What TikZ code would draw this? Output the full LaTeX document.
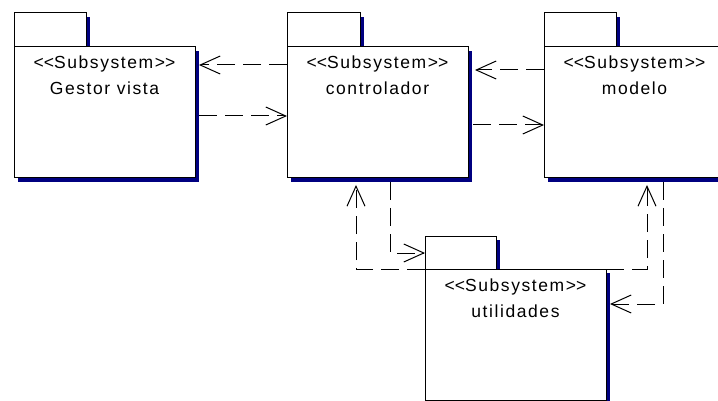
\documentclass[tikz,border=0pt]{standalone}
\usepackage{fontspec}
\newfontfamily\umlfont{Liberation Sans}[LetterSpace=9]
\usetikzlibrary{arrows.meta,shadows}
\definecolor{shadowblue}{RGB}{0,0,128}
\newcommand\stereo{<\kern0pt<\kern0pt Subsystem>\kern0pt>}
\begin{document}
\begin{tikzpicture}[x=1pt,y=-1pt,
  pkg/.style={draw=black, line width=1pt, fill=white, inner sep=0pt, outer sep=0pt,
    anchor=north west, minimum width=181pt,
    drop shadow={shadow xshift=4pt, shadow yshift=-4pt, fill=shadowblue, opacity=1}},
  tabbox/.style={pkg, minimum width=72pt, minimum height=34pt},
  bodybox/.style={pkg, minimum height=131pt},
  lbl/.style={font=\umlfont\fontsize{17.5}{20}\selectfont, anchor=base, inner sep=0pt},
  dep/.style={draw=black, line width=1pt, dash pattern=on 18pt off 8pt,
    -{Straight Barb[length=20pt,width=18pt,line width=1pt]}}]
\clip (0,0) rectangle (718,401);
\fill[white] (0,0) rectangle (718,401);
% Gestor vista
\node[tabbox] (gvt) at (14,13) {};
\node[bodybox] (gvb) at (14,47) {};
\node[lbl] (gvs) at ([yshift=-22pt]gvb.north) {\stereo};
\node[lbl] (gvn) at ([yshift=-48pt]gvb.north) {Gestor vista};
% controlador
\node[tabbox, minimum width=73pt] (ctt) at (287,13) {};
\node[bodybox] (ctb) at (287,47) {};
\node[lbl] (cts) at ([yshift=-22pt]ctb.north) {\stereo};
\node[lbl] (ctn) at ([yshift=-48pt]ctb.north) {controlador};
% modelo
\node[tabbox] (mot) at (544,13) {};
\node[bodybox] (mob) at (544,47) {};
\node[lbl] (mos) at ([yshift=-22pt]mob.north) {\stereo};
\node[lbl] (mon) at ([yshift=-48pt]mob.north) {modelo};
% utilidades
\node[tabbox, minimum width=71pt, minimum height=33pt] (utt) at (425,236) {};
\node[bodybox] (utb) at (425,269) {};
\node[lbl] (uts) at ([yshift=-22pt]utb.north) {\stereo};
\node[lbl] (utn) at ([yshift=-48pt]utb.north) {utilidades};
% dependencies
\draw[dep, shorten >=4pt] (ctb.west |- 0,65) -- (gvb.east |- 0,65);
\draw[dep, shorten <=4pt] (gvb.east |- 0,116) -- (ctb.west |- 0,116);
\draw[dep, shorten >=7pt] (mob.west |- 0,70) -- (ctb.east |- 0,70);
\draw[dep, shorten <=5pt] (ctb.east |- 0,125) -- (mob.west |- 0,125);
\draw[dep, shorten <=4pt] (ctb.south -| 390,0) |- (utt.west |- 0,253);
\draw[dep, shorten >=7pt] (utb.north west) -| (ctb.south -| 356,0);
\draw[dep, shorten >=7pt] (utb.north east) -| (mob.south -| 647,0);
\draw[dep, shorten <=4pt, shorten >=4pt] (mob.south -| 663,0) |- (utb.east |- 0,304);
\end{tikzpicture}
\end{document}
